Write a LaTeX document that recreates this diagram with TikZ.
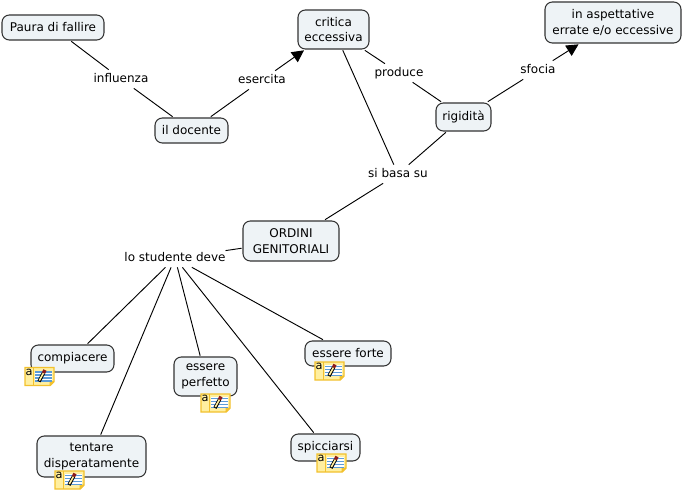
\documentclass[tikz,border=0pt]{standalone}
\usepackage{fontspec}
\setmainfont{DejaVu Sans}
\usetikzlibrary{arrows.meta}
\definecolor{conceptfill}{HTML}{EEF3F6}
\definecolor{notegold}{HTML}{F2C12E}
\definecolor{notefill}{HTML}{FFEFA0}
\definecolor{noteblue}{HTML}{5C9BD8}
\definecolor{notered}{HTML}{8C1C1C}
\tikzset{
  x=0.75pt,y=-0.75pt,
  concept/.style={draw=black!80,line width=0.8pt,fill=conceptfill,rounded corners=5.5pt,align=center,inner sep=0pt,font=\fontsize{9}{11.6}\selectfont,outer sep=1pt},
  linker/.style={align=center,inner sep=0pt,font=\fontsize{9}{11.6}\selectfont,text height=7pt,text depth=2pt,minimum height=14pt,outer sep=0pt},
  link/.style={draw=black,line width=0.7pt},
  linkarrow/.style={link,-{Triangle[length=9pt,width=9pt]}},
  noteicon/.pic={
    \path[draw=notegold,line width=1.1pt,fill=notefill] (0,0) -- (29,0) -- (29,14) -- (25,18) -- (0,18) -- cycle;
    \fill[notegold] (24.5,18) -- (24.5,13.5) -- (29,13.5) -- cycle;
    \draw[notegold,line width=0.4pt] (8,0) -- (8,18);
    \node[inner sep=0pt,font=\fontsize{8.5}{9}\selectfont] (-a) at (4,4.5) {a};
    \fill[white] (10,3) rectangle (27,14);
    \foreach \yy in {4.5,7.5,10.5,13.5} \draw[noteblue,line width=0.8pt] (10,\yy) -- (27,\yy);
    \draw[black,line width=2.6pt] (14,14) -- (18.5,5.5);
    \draw[notefill,line width=1.2pt] (14.3,13) -- (18.5,5.5);
    \draw[notered,line width=2.6pt] (18.5,5.5) -- (20,2.5);
  }
}
\begin{document}
\begin{tikzpicture}
\useasboundingbox (0,0) rectangle (682,492);
\newcommand{\cn}[6]{\node[concept,minimum width=#3*0.75pt,minimum height=#4*0.75pt] (#5) at (#1,#2) {#6};}
\cn{53}{27.5}{102}{25}{paura}{Paura di fallire}
\cn{191.5}{130.5}{73}{25}{docente}{il docente}
\cn{333.5}{29.5}{71}{39}{critica}{critica\\eccessiva}
\cn{463.5}{117}{55}{28}{rigidita}{rigidità}
\cn{613}{22.5}{136}{41}{aspett}{in aspettative\\errate e/o eccessive}
\cn{291}{241}{96}{40}{ordini}{ORDINI\\GENITORIALI}
\cn{72.5}{358.5}{83}{27}{compiacere}{compiacere}
\cn{205.5}{376.5}{63}{39}{perfetto}{essere\\perfetto}
\cn{348}{353.5}{86}{25}{forte}{essere forte}
\cn{91.5}{456.5}{109}{41}{tentare}{tentare\\disperatamente}
\cn{325.5}{447.5}{69}{27}{spicciarsi}{spicciarsi}

\node[linker] (influenza) at (121,79) {influenza};
\node[linker] (esercita) at (262,80) {esercita};
\node[linker] (produce) at (399,73) {produce};
\node[linker] (sfocia) at (538,70) {sfocia};
\node[linker] (basa) at (398,174) {si basa su};
\node[linker] (deve) at (175,258) {lo studente deve};

\draw[link] (paura) -- (influenza);
\draw[link] (influenza) -- (docente);
\draw[link] (docente) -- (esercita);
\draw[linkarrow] (esercita) -- (critica);
\draw[link] (critica) -- (produce);
\draw[link] (produce) -- (rigidita);
\draw[link] (rigidita) -- (sfocia);
\draw[linkarrow] (sfocia) -- (aspett);
\draw[link] (rigidita) -- (basa);
\draw[link] (critica) -- (basa);
\draw[link] (basa) -- (ordini);
\draw[link] (ordini) -- (deve);
\draw[link] (deve) -- (compiacere);
\draw[link] (deve) -- (tentare);
\draw[link] (deve) -- (perfetto);
\draw[link] (deve) -- (spicciarsi);
\draw[link] (deve) -- (forte);

\pic (n1) at (25,367.5) {noteicon};
\pic (n2) at (201,394) {noteicon};
\pic (n3) at (315,362) {noteicon};
\pic (n4) at (55,471) {noteicon};
\pic (n5) at (317,454) {noteicon};
\end{tikzpicture}
\end{document}
